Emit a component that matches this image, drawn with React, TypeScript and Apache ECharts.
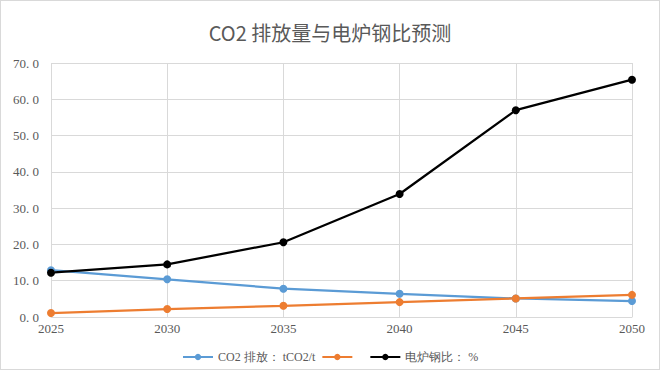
import React, { useEffect, useRef } from "react";
import * as echarts from "echarts";

const years = ["2025", "2030", "2035", "2040", "2045", "2050"];
const co2Values = [12.9, 10.4, 7.8, 6.4, 5.1, 4.4];
const orangeValues = [1.1, 2.2, 3.1, 4.1, 5.1, 6.1];
const eafValues = [12.2, 14.5, 20.6, 33.9, 57.0, 65.4];
const yTicks = { min: 0, max: 70, interval: 10 };

const co2Name = "CO2 排放： tCO2/t";
const orangeName = "  ";
const eafName = "电炉钢比： %";

export default function App() {
  const ref = useRef<HTMLDivElement>(null);
  useEffect(() => {
    if (!ref.current) return;
    const chart = echarts.init(ref.current, null, { renderer: "svg" });
    const labelFont = "Liberation Serif, DejaVu Serif, serif";
    const mk = (name: string, data: number[], color: string) => ({
      name,
      type: "line",
      data,
      symbol: "circle",
      symbolSize: 8,
      lineStyle: { color, width: 2.25 },
      itemStyle: { color },
    });
    chart.setOption({
      animation: false,
      backgroundColor: "#ffffff",
      title: {
        text: "CO2 排放量与电炉钢比预测",
        left: "center",
        top: 16,
        textStyle: {
          fontFamily: "Noto Sans CJK SC, sans-serif",
          fontWeight: "normal",
          fontSize: 20,
          color: "#595959",
        },
      },
      legend: {
        bottom: 1,
        left: 176,
        itemWidth: 30,
        itemHeight: 8,
        itemGap: 6,
        textStyle: { fontFamily: labelFont, fontSize: 12, color: "#595959" },
        data: [co2Name, orangeName, eafName],
      },
      grid: { left: 50, right: 27, top: 62, bottom: 52 },
      xAxis: {
        type: "category",
        data: years,
        boundaryGap: false,
        axisLine: { lineStyle: { color: "#d9d9d9" } },
        axisTick: { show: false },
        splitLine: { show: true, lineStyle: { color: "#d9d9d9" } },
        axisLabel: { fontFamily: labelFont, fontSize: 13, color: "#595959", margin: 5 },
      },
      yAxis: {
        type: "value",
        min: yTicks.min,
        max: yTicks.max,
        interval: yTicks.interval,
        axisLine: { show: false },
        axisTick: { show: false },
        splitLine: { lineStyle: { color: "#d9d9d9" } },
        axisLabel: {
          fontFamily: labelFont,
          fontSize: 13,
          color: "#595959",
          margin: 12,
          formatter: (v: number) => v.toFixed(1).replace(".", ". "),
        },
      },
      series: [
        mk(co2Name, co2Values, "#5B9BD5"),
        mk(orangeName, orangeValues, "#ED7D31"),
        mk(eafName, eafValues, "#000000"),
      ],
    });
    return () => chart.dispose();
  }, []);
  return (
    <div
      ref={ref}
      style={{
        position: "fixed",
        left: 0,
        top: 0,
        width: 660,
        height: 370,
        boxSizing: "border-box",
        border: "1px solid #d9d9d9",
      }}
    />
  );
}
